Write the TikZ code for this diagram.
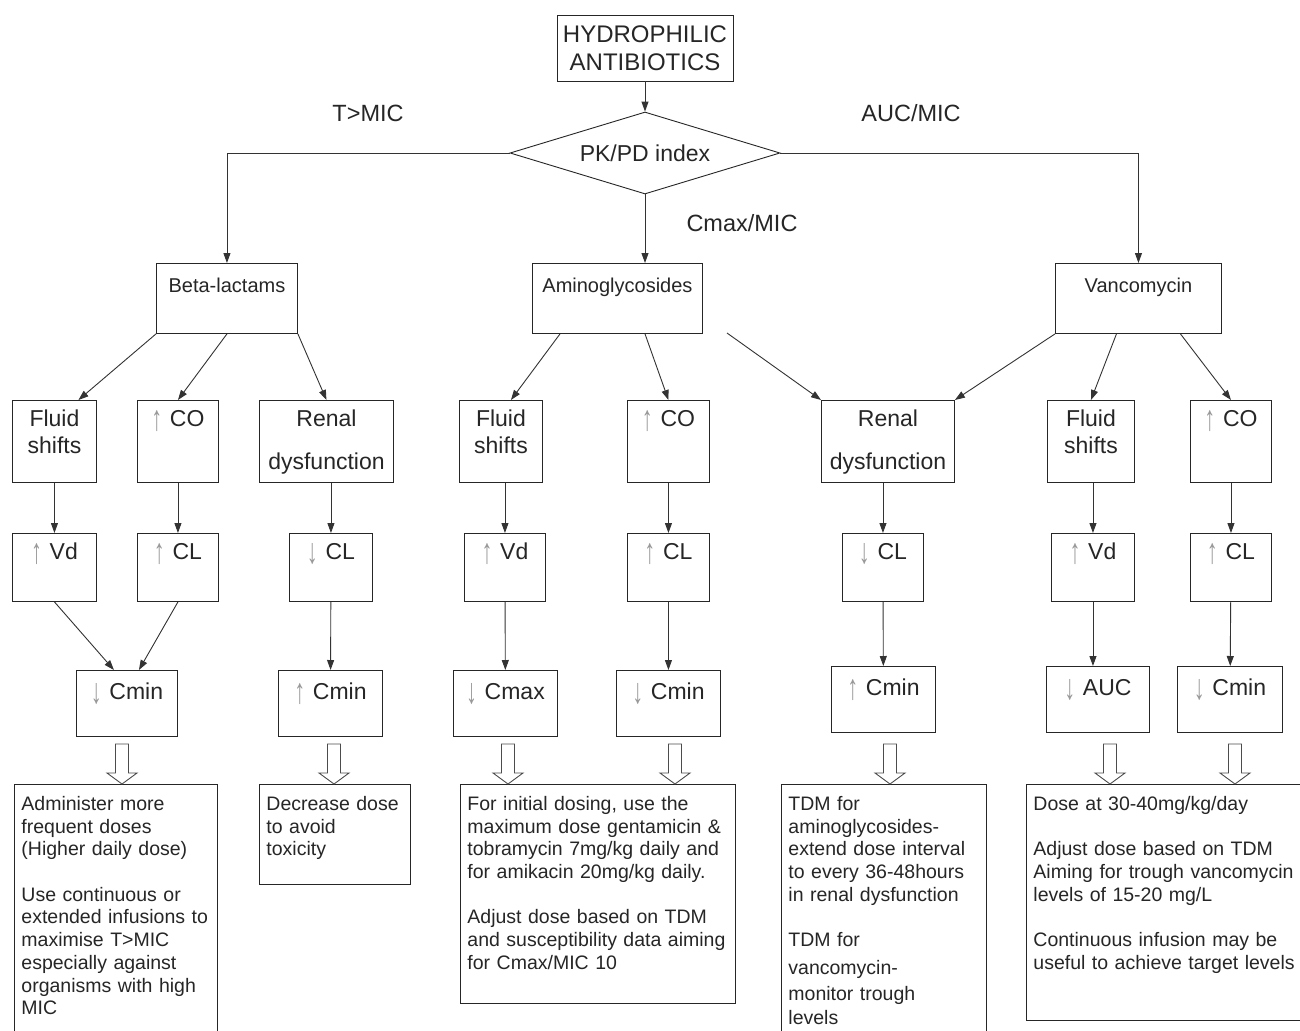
\documentclass[tikz,border=0pt]{standalone}
\usepackage{fontspec}
\setmainfont{Liberation Sans}
\usetikzlibrary{arrows.meta,positioning,calc,shapes.geometric}
\tikzset{
  cell/.style={draw=black!85, line width=0.9pt, anchor=north west, inner sep=0pt,
               align=center, text=black!85, font=\fontsize{23}{27}\selectfont},
  rowa/.style={cell, text height=26.5pt, text depth=55.5pt},
  rowb/.style={cell, text height=26pt, text depth=42pt},
  rowc/.style={cell, text height=29pt, text depth=37pt},
  drugbox/.style={cell, text height=29pt, text depth=41pt, font=\fontsize{20}{24}\selectfont},
  notebox/.style={draw=black!85, line width=0.9pt, anchor=north west, inner xsep=7pt, inner ysep=0pt,
                  align=left, text height=26pt, text=black!85, font=\fontsize{19.5}{22.7}\selectfont},
  link/.style={-{Triangle[length=10pt,width=7pt]}, draw=black!80, line width=0.9pt},
  hollow/.style={draw=black!70, line width=0.9pt, fill=white},
  idxlab/.style={text=black!85, font=\fontsize{23.5}{27}\selectfont},
}
\newcommand{\arrup}{\textcolor{gray!80}{\raisebox{-4pt}{\scalebox{0.95}[1.55]{↑}}}}
\newcommand{\arrdn}{\textcolor{gray!80}{\raisebox{-4pt}{\scalebox{0.95}[1.55]{↓}}}}
\newcommand{\hollowarrow}[2]{%
  \draw[hollow] (#1,0 |- #2.north) -- ++(-15,-11) -- ++(8.5,0) -- ++(0,-29)
    -- ++(13,0) -- ++(0,29) -- ++(8.5,0) -- cycle;}

\begin{document}
\begin{tikzpicture}[x=1pt,y=-1pt]
\fill[white] (0,0) rectangle (1300,1030);
\useasboundingbox (0,0) rectangle (1300,1030);
\node[draw=black!85, line width=0.9pt, align=center, minimum width=176, minimum height=66,
      inner sep=0pt, text=black!85, font=\fontsize{24}{27.5}\selectfont] (hydro) at (645,48)
  {HYDROPHILIC\\ANTIBIOTICS};
\node[diamond, draw=black!85, line width=0.9pt, aspect=3.3, minimum width=270, minimum height=82,
      inner sep=0pt, text=black!85, font=\fontsize{23}{27}\selectfont] (pkpd) at (645,153) {PK/PD index};
\node[idxlab] (tmic) at (368,113) {T>MIC};
\node[idxlab] (aucmic) at (911,113) {AUC/MIC};
\node[idxlab] (cmaxmic) at (742,223) {Cmax/MIC};
\node[drugbox, text width=141pt] (beta) at (156,263) {Beta-lactams};
\node[drugbox, text width=170pt] (amino) at (532,263) {Aminoglycosides};
\node[drugbox, text width=166pt] (vanco) at (1055,263) {Vancomycin};
\draw[link] (hydro) -- (pkpd);
\draw[link] (pkpd.west) -| (beta.north);
\draw[link] (pkpd.south) -- (pkpd.south |- amino.north);
\draw[link] (pkpd.east) -| (vanco.north);
\node[rowa, text width=84pt] (blfluid) at (12,400) {Fluid\\shifts};
\node[rowa, text width=81pt] (blco) at (137,400) {\arrup\ CO};
\node[rowa, text width=134pt] (blrenal) at (259,400) {Renal\\[16pt]dysfunction};
\node[rowa, text width=83pt] (amfluid) at (459,400) {Fluid\\shifts};
\node[rowa, text width=82pt] (amco) at (627,400) {\arrup\ CO};
\node[rowa, text width=133pt] (renal) at (821,400) {Renal\\[16pt]dysfunction};
\node[rowa, text width=87pt] (vafluid) at (1047,400) {Fluid\\shifts};
\node[rowa, text width=81pt] (vaco) at (1190,400) {\arrup\ CO};
\draw[link] (beta.south west) -- ($(blfluid.north)+(24,0)$);
\draw[link] (beta.south) -- (blco.north);
\draw[link] (beta.south east) -- (blrenal.north);
\draw[link] ($(amino.south west)+(28,0)$) -- ($(amfluid.north)+(10,0)$);
\draw[link] (pkpd.south |- amino.south) -- (amco.north);
\coordinate (renalfeed) at (727,333);
\draw[link] (renalfeed) -- (renal.north west);
\draw[link] (vanco.south west) -- (renal.north east);
\draw[link] ($(vanco.south)+(-22,0)$) -- (vafluid.north);
\draw[link] ($(vanco.south)+(42,0)$) -- (vaco.north);
\node[rowb, text width=84pt] (blvd) at (12,533) {\arrup\ Vd};
\node[rowb, text width=81pt] (blcl) at (137,533) {\arrup\ CL};
\node[rowb, text width=83pt] (blcld) at (289,533) {\arrdn\ CL};
\node[rowb, text width=81pt] (amvd) at (464,533) {\arrup\ Vd};
\node[rowb, text width=82pt] (amcl) at (627,533) {\arrup\ CL};
\node[rowb, text width=81pt] (cld) at (842,533) {\arrdn\ CL};
\node[rowb, text width=83pt] (vavd) at (1051,533) {\arrup\ Vd};
\node[rowb, text width=81pt] (vacl) at (1190,533) {\arrup\ CL};
\draw[link] (blfluid) -- (blvd);
\draw[link] (blco) -- (blcl);
\draw[link] (blrenal.south -| blcld) -- (blcld);
\draw[link] (amfluid.south -| amvd) -- (amvd);
\draw[link] (amco) -- (amcl);
\draw[link] (renal.south -| cld) -- (cld);
\draw[link] (vafluid.south -| vavd) -- (vavd);
\draw[link] (vaco) -- (vacl);
\node[rowc, text width=101pt] (blcmin) at (76,670) {\arrdn\ Cmin};
\node[rowc, text width=104pt] (blcminup) at (278,670) {\arrup\ Cmin};
\node[rowc, text width=104pt] (amcmax) at (453,670) {\arrdn\ Cmax};
\node[rowc, text width=104pt] (amcmin) at (616,670) {\arrdn\ Cmin};
\node[rowc, text width=104pt] (cminup) at (831,666) {\arrup\ Cmin};
\node[rowc, text width=103pt] (vaauc) at (1046,666) {\arrdn\ AUC};
\node[rowc, text width=105pt] (vacmin) at (1177,666) {\arrdn\ Cmin};
\draw[link] (blvd.south) -- ($(blcmin.north)+(-13,0)$);
\draw[link] (blcl.south) -- ($(blcmin.north)+(12,0)$);
\draw[link] (blcld) -- (blcminup);
\draw[link] (amvd) -- (amcmax);
\draw[link] (amcl) -- (amcmin);
\draw[link] (cld) -- (cminup);
\draw[link] (vavd.south) -- (vavd.south |- vaauc.north);
\draw[link] (vacl) -- (vacmin);
\node[notebox, text width=189pt, text depth=234pt] (note1) at (14,784)
  {Administer more\\frequent doses\\(Higher daily dose)\\[22.7pt]Use continuous or\\extended infusions to\\maximise T>MIC\\especially against\\organisms with high\\MIC};
\node[notebox, text width=137pt, text depth=74pt] (note2) at (259,784)
  {Decrease dose\\to avoid\\toxicity};
\node[notebox, text width=261pt, text depth=193pt] (note3) at (460,784)
  {For initial dosing, use the\\maximum dose gentamicin \&\\tobramycin 7mg/kg daily and\\for amikacin 20mg/kg daily.\\[22.7pt]Adjust dose based on TDM\\and susceptibility data aiming\\for Cmax/MIC 10};
\node[notebox, text width=191pt, text depth=234pt] (note4) at (781,784)
  {TDM for\\aminoglycosides-\\extend dose interval\\to every 36-48hours\\in renal dysfunction\\[23pt]TDM for\\[5pt]vancomycin-\\[3pt]monitor trough\\[1pt]levels};
\node[notebox, text width=276pt, text depth=210pt] (note5) at (1026,784)
  {Dose at 30-40mg/kg/day\\[22.7pt]Adjust dose based on TDM\\Aiming for trough vancomycin\\levels of 15-20 mg/L\\[22.7pt]Continuous infusion may be\\useful to achieve target levels};
\hollowarrow{122}{note1}
\hollowarrow{334}{note2}
\hollowarrow{508}{note3}
\hollowarrow{675}{note3}
\hollowarrow{890}{note4}
\hollowarrow{1110}{note5}
\hollowarrow{1235}{note5}
\end{tikzpicture}
\end{document}
